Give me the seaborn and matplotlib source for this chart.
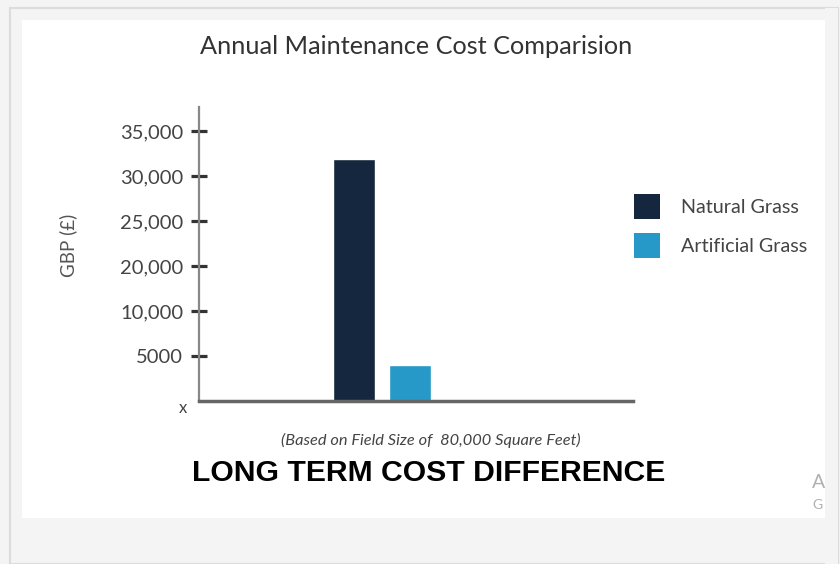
import matplotlib.pyplot as plt
import matplotlib.patches as mpatches
import numpy as np
import pandas as pd
import seaborn as sns

# values (y positions on the drawn axis scale)
categories = ['Natural Grass', 'Artificial Grass']
costs = [26900, 4000]
bar_colors = ['#15263f', '#2799c8']
tick_pos = [5000, 10000, 15000, 20000, 25000, 30000]
tick_labels = ['5000', '10,000', '20,000', '25,000', '30,000', '35,000']

sns.set_style('white')
plt.rcParams['font.family'] = ['Lato', 'DejaVu Sans']

W, H = 840, 564
fig = plt.figure(figsize=(W / 100, H / 100), dpi=100)
fig.patch.set_facecolor('#f4f4f4')

# screenshot frame + white panel
fig.patches.append(mpatches.Rectangle((10 / W, 0), 828 / W, 1 - 8 / H, transform=fig.transFigure,
                                      facecolor='#f4f4f4', edgecolor='#dcdcdc', lw=1.5, zorder=0))
fig.patches.append(mpatches.Rectangle((22 / W, 1 - 518 / H), 803 / W, 498 / H, transform=fig.transFigure,
                                      facecolor='white', edgecolor='none', zorder=0.5))

ax = fig.add_axes([199 / W, 1 - 401 / H, 434 / W, 294 / H])
ax.set_zorder(2)
ax.set_facecolor('white')

df = pd.DataFrame({'Grass': categories, 'Cost': costs})
sns.barplot(data=df, x='Grass', y='Cost', hue='Grass', palette=bar_colors,
            width=0.75, legend=False, ax=ax, saturation=1)

ax.set_xlim(-2.77, 4.98)
ax.set_ylim(0, 32700)
ax.set_xticks([])
ax.set_xlabel('')
ax.set_yticks(tick_pos)
ax.set_yticklabels(tick_labels)
ax.tick_params(axis='y', direction='inout', length=11, width=2.3, color='#333333',
               labelsize=14.5, labelcolor='#444444', pad=6, left=True)
ax.set_ylabel('GBP (£)', fontsize=13.5, color='#555555')
ax.yaxis.set_label_coords(-0.28, 0.53)

for s in ['top', 'right']:
    ax.spines[s].set_visible(False)
ax.spines['left'].set_color('#888888')
ax.spines['left'].set_linewidth(1.6)
ax.spines['bottom'].set_color('#666666')
ax.spines['bottom'].set_linewidth(2.5)

fig.text(183 / W, 1 - 408 / H, 'x', ha='center', va='center', fontsize=12, color='#444444', zorder=3)

handles = [mpatches.Patch(facecolor=c, edgecolor='none') for c in bar_colors]
leg = fig.legend(handles, categories, loc='center left', bbox_to_anchor=(616 / W, 1 - 226 / H),
                 frameon=False, fontsize=14.2, labelcolor='#444444', handlelength=1.33,
                 handleheight=1.6, handletextpad=1.05, labelspacing=0.7)
leg.set_zorder(3)

fig.text(416 / W, 1 - 46 / H, 'Annual Maintenance Cost Comparision', ha='center', va='center',
         fontsize=18.2, color='#333333', zorder=3)
fig.text(431 / W, 1 - 440 / H, '(Based on Field Size of  80,000 Square Feet)', ha='center',
         va='center', fontsize=11.8, style='italic', color='#444444', zorder=3)
fig.text(429 / W, 1 - 473 / H, 'LONG TERM COST DIFFERENCE', ha='center', va='center',
         fontsize=21.7, fontweight='bold', color='black', family='Liberation Sans', zorder=3)

# cut-off text at the right edge of the panel
fig.text(812 / W, 1 - 482 / H, 'A', ha='left', va='center', fontsize=14, color='#b0b0b0', zorder=3)
fig.text(812 / W, 1 - 505 / H, 'G', ha='left', va='center', fontsize=10, color='#b0b0b0', zorder=3)
fig.patches.append(mpatches.Rectangle((825 / W, 0), 13 / W, 1 - 8 / H, transform=fig.transFigure,
                                      facecolor='#f4f4f4', edgecolor='none', zorder=5))

fig.savefig('out.png', dpi=100, facecolor=fig.get_facecolor())
